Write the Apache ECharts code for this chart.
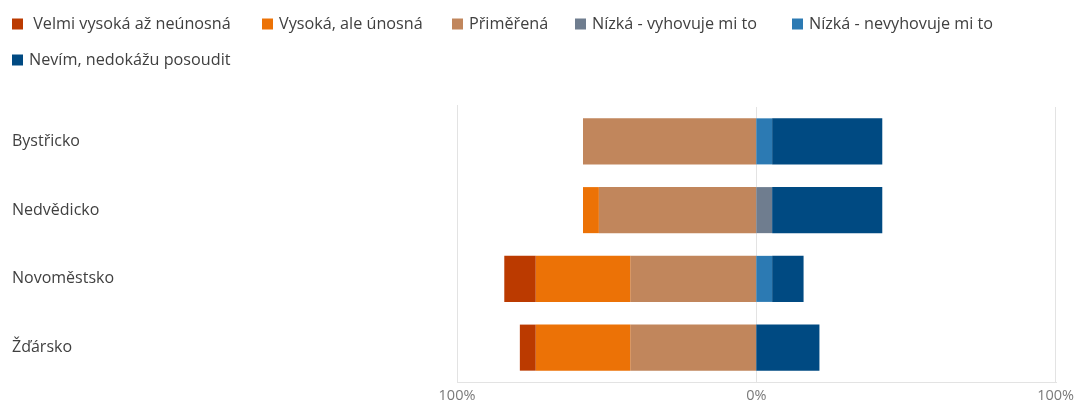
<!DOCTYPE html>
<html>
<head>
<meta charset="utf-8">
<script src="https://cdn.jsdelivr.net/npm/echarts@6/dist/echarts.min.js"></script>
<style>
html,body{margin:0;padding:0;background:#fff;}
#chart{width:1077px;height:403px;}
</style>
</head>
<body>
<div id="chart"></div>
<script>
// Data (percent)
const categories = ['Bystřicko', 'Nedvědicko', 'Novoměstsko', 'Žďársko'];
const seriesNames = [' Velmi vysoká až neúnosná', 'Vysoká, ale únosná', 'Přiměřená', 'Nízká - vyhovuje mi to', 'Nízká - nevyhovuje mi to', 'Nevím, nedokážu posoudit'];
const velmiVysoka = [0, 0, 10.5, 5.3];
const vysoka = [0, 5.3, 31.6, 31.6];
const primerena = [57.9, 52.6, 42.1, 42.1];
const nizkaVyhovuje = [0, 5.3, 0, 0];
const nizkaNevyhovuje = [5.3, 0, 5.3, 0];
const nevim = [36.8, 36.8, 10.5, 21.1];
const xTicks = [-100, 0, 100];

const colors = ['#BB3A00', '#EC7206', '#C1865C', '#6F7D8F', '#2C7AB3', '#004A82'];

// legend item placement (layout only)
const legendLeft = [12, 262, 452, 575, 792, 12];
const legendTop = [16, 16, 16, 16, 16, 52];

const neg = a => a.map(v => -v);

function bar(name, data, color, stack) {
  return {
    name: name, type: 'bar', stack: stack, data: data,
    barCategoryGap: '33%',
    itemStyle: { color: color },
    emphasis: { disabled: true }
  };
}

const chart = echarts.init(document.getElementById('chart'), null, { renderer: 'canvas' });
const font = '"Open Sans", "Noto Sans", sans-serif';
const legends = seriesNames.map((n, i) => ({
  orient: 'horizontal', left: legendLeft[i], top: legendTop[i], padding: 0,
  itemWidth: 11, itemHeight: 11, icon: 'rect', selectedMode: false,
  textStyle: { fontFamily: font, fontSize: 16.2, color: '#404040', padding: [0, 0, 0, 1] },
  data: [n]
}));
chart.setOption({
  animation: false,
  color: colors,
  legend: legends,
  grid: { left: 457, right: 20, top: 107, bottom: 21, containLabel: false },
  xAxis: {
    type: 'value', min: -100, max: 100, interval: 100,
    axisLine: { show: false }, axisTick: { show: false },
    splitLine: { show: true, lineStyle: { color: '#e3e3e3', width: 1 } },
    axisLabel: {
      fontFamily: font, fontSize: 14.5, color: '#7a7a7a', margin: 6,
      formatter: v => xTicks.indexOf(v) >= 0 ? Math.abs(v) + '%' : ''
    }
  },
  yAxis: {
    type: 'category', data: categories, inverse: true,
    axisLine: { show: false }, axisTick: { show: false },
    axisLabel: { fontFamily: font, fontSize: 16, color: '#404040', align: 'left', margin: 445, padding: [4, 0, 0, 0] }
  },
  graphic: [{
    type: 'line', silent: true,
    shape: { x1: 457, y1: 382.5, x2: 1057, y2: 382.5 },
    style: { stroke: '#e3e3e3', lineWidth: 1 }
  }, {
    type: 'line', silent: true,
    shape: { x1: 457.5, y1: 105, x2: 457.5, y2: 107 },
    style: { stroke: '#e3e3e3', lineWidth: 1 }
  }],
  series: [
    bar(seriesNames[2], neg(primerena), colors[2], 'total'),
    bar(seriesNames[1], neg(vysoka), colors[1], 'total'),
    bar(seriesNames[0], neg(velmiVysoka), colors[0], 'total'),
    bar(seriesNames[3], nizkaVyhovuje, colors[3], 'total'),
    bar(seriesNames[4], nizkaNevyhovuje, colors[4], 'total'),
    bar(seriesNames[5], nevim, colors[5], 'total')
  ]
});
</script>
</body>
</html>
